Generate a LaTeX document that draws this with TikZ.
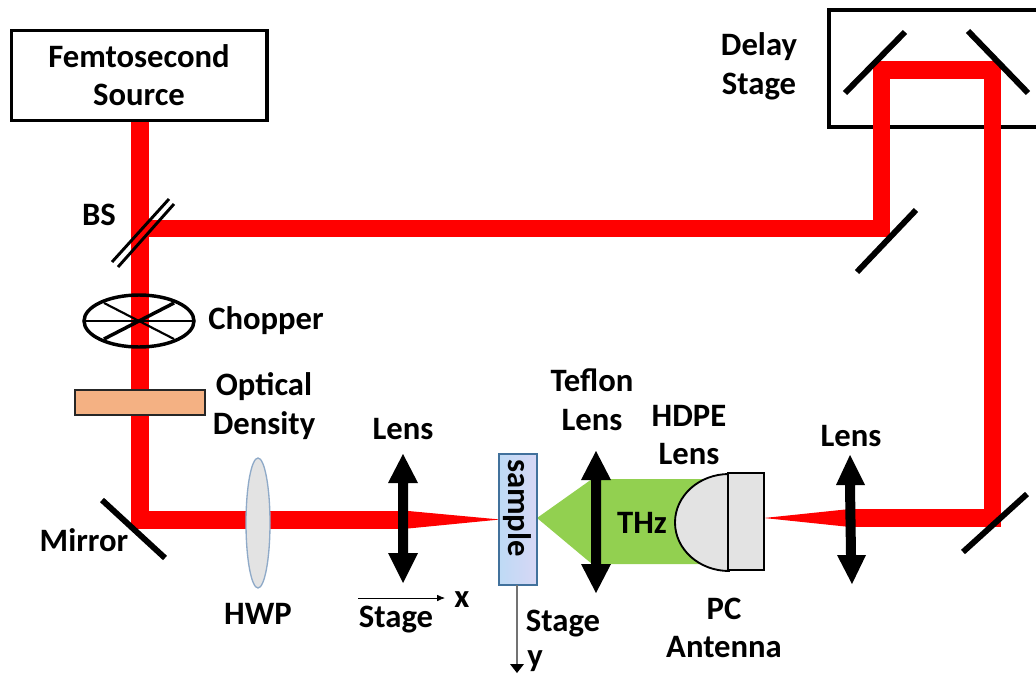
\documentclass[tikz,border=0pt]{standalone}
\usepackage{fontspec}
\usetikzlibrary{arrows.meta}
\setmainfont{Carlito}
\definecolor{odfill}{RGB}{244,177,131}
\definecolor{thzgreen}{RGB}{146,208,80}
\definecolor{hwpedge}{RGB}{143,170,200}
\definecolor{sampleedge}{RGB}{65,113,156}
\definecolor{sampleleft}{RGB}{190,218,245}
\definecolor{sampleright}{RGB}{215,215,245}
\begin{document}
\begin{tikzpicture}[x=0.75pt,y=-0.75pt,
  lbl/.style={font=\fontsize{24.5}{29}\selectfont\bfseries,align=center,text=black,inner sep=0pt},
  beam/.style={draw=red,line width=13.4pt,miter limit=10},
  taper/.style={fill=red,draw=none},
  mirror/.style={line width=4.4pt,draw=black},
  thinmirror/.style={line width=2.2pt,draw=black},
  box/.style={draw=black,line width=2.4pt,fill=white},
  lensarrow/.style={fill=black,draw=none},
  grayfill/.style={fill=black!11,draw=black,line width=1.4pt}]
\useasboundingbox (0,0) rectangle (1036,675);
% boxes
\begin{scope}
\clip (0,0) rectangle (1036,675);
\draw[draw=black,line width=2.4pt] (829,10) rectangle (1050,127);
\end{scope}
\node[box,minimum width=191.5pt,minimum height=67.5pt,anchor=north west] (source) at (10,29) {};
\node[lbl] (sourcetext) at (139,75) {Femtosecond\\Source};
% beams
\draw[beam] (140,122) -- (140,520) -- (403,520);
\draw[beam] (140,228.5) -- (881.5,228.5) -- (881.5,70) -- (992.5,70) -- (992.5,518) -- (850,518);
\fill[taper] (403,510.5) -- (500,519.5) -- (403,529) -- cycle;
\fill[taper] (850,509) -- (764,518) -- (850,527) -- cycle;
% mirrors
\draw[mirror] (845,93) -- (905,32);
\draw[mirror] (968,31) -- (1028,93);
\draw[mirror] (857,272) -- (916,210);
\draw[mirror] (963,552) -- (1027,494);
\draw[mirror] (102,500) -- (165,558);
% beam splitter
\draw[thinmirror] (112,262) -- (169,199);
\draw[thinmirror] (118,267) -- (174,204);
% chopper
\draw[black,line width=2.6pt] (139,321) ellipse [x radius=55,y radius=26];
\draw[black,line width=1.6pt] (85,321) -- (192,321);
\draw[black,line width=1.6pt] (104,303) -- (174,339);
\draw[black,line width=2.6pt] (104,339) -- (174,303);
% optical density
\draw[fill=odfill,draw=black!85,line width=1.1pt] (75,390) rectangle (205,415);
% HWP
\draw[fill=black!11,draw=hwpedge,line width=1pt] (258,523) ellipse [x radius=12,y radius=65];
% THz green
\fill[thzgreen] (537,518) -- (592,479) -- (720,479) -- (720,564) -- (592,564) -- cycle;
% PC antenna
\draw[grayfill] (729,571) arc[start angle=90,end angle=270,x radius=54,y radius=48.5] -- cycle;
\draw[grayfill] (728,473) rectangle (764,570);
% lenses
\fill[lensarrow] (398,483) -- (398,553) -- (388,553) -- (403,583) -- (418,553) -- (408,553) -- (408,483) -- (418,483) -- (403,454) -- (388,483) -- cycle;
\fill[lensarrow] (591,480) -- (591,564) -- (581,564) -- (596,593) -- (611,564) -- (601,564) -- (601,480) -- (611,480) -- (596,451) -- (581,480) -- cycle;
\fill[lensarrow] (845,485) -- (846,555) -- (837,555) -- (852,584) -- (866,555) -- (856,555) -- (855,485) -- (865,485) -- (850,455) -- (836,485) -- cycle;
% sample
\draw[draw=sampleedge,line width=1.1pt,left color=sampleleft,right color=sampleright] (499,454) rectangle (537,585);
\node[lbl,rotate=-90] (sampletext) at (517,508) {sample};
% stage arrows
\coordinate (xa) at (358,598);
\coordinate (xb) at (445,598);
\coordinate (ya) at (517,585);
\coordinate (yb) at (517,672);
\draw[black,line width=0.6pt,-{Latex[length=6pt,width=5pt]}] (xa) -- (xb);
\draw[black!55,line width=0.8pt] (ya) -- (517,664);
\fill[black] (510,664) -- (524,664) -- (517,673) -- cycle;
% labels
\node[lbl] (delay) at (759,66) {Delay\\Stage};
\node[lbl] (bs) at (99,215) {BS};
\node[lbl,anchor=west] (chopper) at (208,321) {Chopper};
\node[lbl] (od) at (264,406) {Optical\\Density};
\node[lbl] (lensa) at (403,429) {Lens};
\node[lbl] (teflon) at (592,400) {Teflon\\Lens};
\node[lbl] (hdpe) at (689,435) {HDPE\\Lens};
\node[lbl] (lensb) at (851,436) {Lens};
\node[lbl] (mirrortext) at (84,540) {Mirror};
\node[lbl] (hwp) at (258,614) {HWP};
\node[lbl] (stagea) at (396,620) {Stage};
\node[lbl] (x) at (462,600) {x};
\node[lbl] (stageb) at (563,624) {Stage};
\node[lbl] (y) at (535,661) {y};
\node[lbl] (thz) at (642,523) {THz};
\node[lbl] (pc) at (724,628) {PC\\Antenna};
\end{tikzpicture}
\end{document}
